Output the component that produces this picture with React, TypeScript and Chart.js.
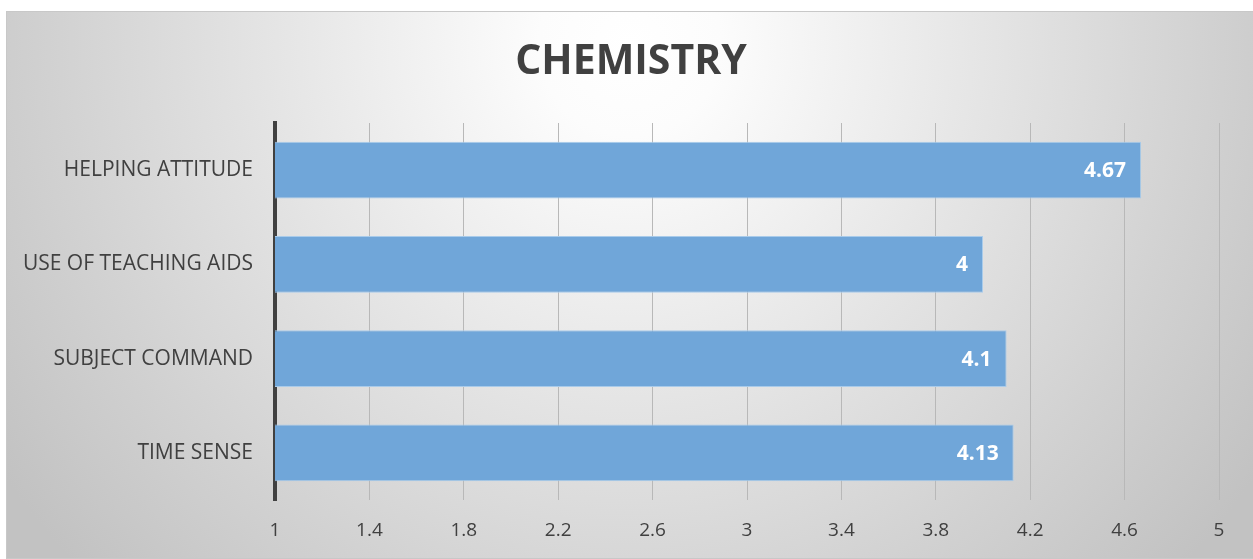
import React, { useEffect, useRef } from "react";
import { Chart, registerables } from "chart.js";

Chart.register(...registerables);

const categories = ["HELPING ATTITUDE", "USE OF TEACHING AIDS", "SUBJECT COMMAND", "TIME SENSE"];
const values = [4.67, 4, 4.1, 4.13];
const xMin = 1;
const xMax = 5;
const xStep = 0.4;
const titleText = "CHEMISTRY";

const W = 1253;
const H = 559;

const bgPlugin = {
  id: "bgPlugin",
  beforeDraw(chart: any) {
    const ctx = chart.ctx;
    ctx.save();
    ctx.fillStyle = "#ffffff";
    ctx.fillRect(0, 0, W, H);
    const g = ctx.createRadialGradient(630, 45, 0, 630, 45, 760);
    g.addColorStop(0, "#ffffff");
    g.addColorStop(0.12, "#fcfcfc");
    g.addColorStop(0.75, "#d2d2d2");
    g.addColorStop(1, "#c2c2c2");
    ctx.fillStyle = g;
    ctx.fillRect(6, 11, W - 6, H - 12);
    ctx.strokeStyle = "#c8c8c8";
    ctx.lineWidth = 1;
    ctx.strokeRect(6.5, 11.5, W, H - 12);
    // title
    ctx.fillStyle = "#404040";
    ctx.font = "bold 41px 'Open Sans'";
    ctx.textAlign = "center";
    ctx.textBaseline = "middle";
    ctx.fillText(titleText, 631, 62);
    ctx.restore();
  },
};

const labelPlugin = {
  id: "labelPlugin",
  afterDatasetsDraw(chart: any) {
    const ctx = chart.ctx;
    const meta = chart.getDatasetMeta(0);
    ctx.save();
    ctx.fillStyle = "#ffffff";
    ctx.font = "bold 21px 'Open Sans'";
    ctx.textAlign = "right";
    ctx.textBaseline = "middle";
    meta.data.forEach((bar: any, i: number) => {
      ctx.fillText(String(values[i]), bar.x - 15, bar.y + 1);
    });
    ctx.restore();
  },
};

const tickValues: number[] = [];
for (let v = xMin; v <= xMax + 1e-9; v += xStep) tickValues.push(Math.round(v * 10) / 10);

export default function App() {
  const ref = useRef<HTMLCanvasElement>(null);
  useEffect(() => {
    if (!ref.current) return;
    const chart = new Chart(ref.current, {
      type: "bar",
      data: {
        labels: categories,
        datasets: [
          {
            data: values,
            backgroundColor: "#70a6d9",
            borderColor: "#a9cbea",
            borderWidth: 1,
            categoryPercentage: 1,
            barPercentage: 0.6,
          },
        ],
      },
      options: {
        indexAxis: "y",
        animation: false,
        responsive: false,
        maintainAspectRatio: false,
        layout: { padding: { left: 0, right: 34, top: 123, bottom: 0 } },
        plugins: { legend: { display: false }, tooltip: { enabled: false }, title: { display: false } },
        scales: {
          x: {
            type: "linear",
            min: xMin,
            max: xMax,
            afterBuildTicks: (scale: any) => {
              scale.ticks = tickValues.map((v) => ({ value: v }));
            },
            afterFit: (scale: any) => {
              scale.height = 59;
            },
            grid: { color: "#b8b8b8", lineWidth: 1, drawTicks: false },
            border: { display: false },
            ticks: {
              color: "#404040",
              font: { family: "'Open Sans'", size: 19 },
              padding: 19,
              callback: (v: any) => String(Math.round(Number(v) * 10) / 10),
            },
          },
          y: {
            afterFit: (scale: any) => {
              scale.width = 275;
            },
            grid: { display: false, drawTicks: false },
            border: { display: true, color: "#404040", width: 4 },
            ticks: {
              color: "#404040",
              font: { family: "'Open Sans'", size: 21 },
              padding: 22,
            },
          },
        },
      },
      plugins: [bgPlugin, labelPlugin],
    });
    return () => chart.destroy();
  }, []);
  return (
    <div style={{ position: "fixed", left: 0, top: 0, width: W, height: H }}>
      <canvas ref={ref} width={W} height={H} style={{ width: W, height: H, display: "block" }} />
    </div>
  );
}
